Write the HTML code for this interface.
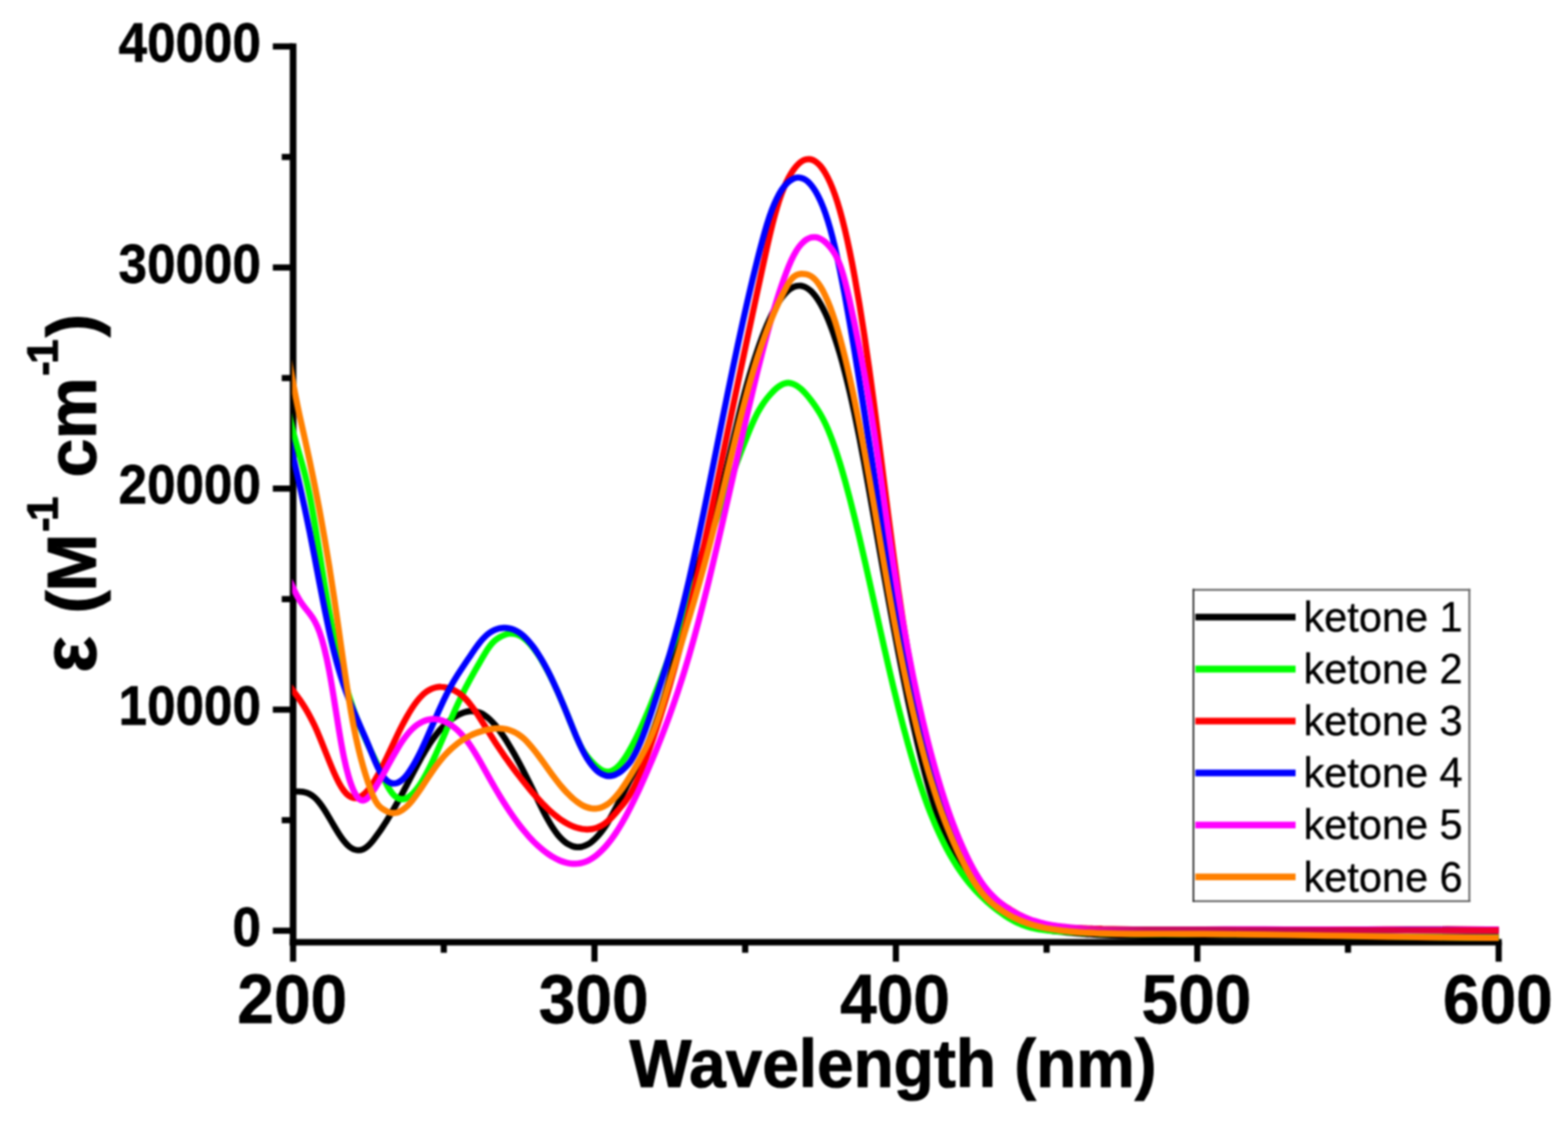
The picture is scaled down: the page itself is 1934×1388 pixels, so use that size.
<!DOCTYPE html>
<html lang="en">
<head>
<meta charset="utf-8">
<title>UV-vis absorption spectra of ketones 1-6</title>
<style>
html,body{margin:0;padding:0;background:#ffffff;}
body{width:1934px;height:1388px;overflow:hidden;}
svg{display:block;filter:blur(0.9px);}
text{font-family:"Liberation Sans","DejaVu Sans",sans-serif;fill:#000;}
.yt{font-size:68.6px;font-weight:bold;text-anchor:end;stroke:#000;stroke-width:0.8px;stroke-linejoin:round;}
.xt{font-size:84.6px;font-weight:bold;text-anchor:middle;stroke:#000;stroke-width:0.8px;stroke-linejoin:round;}
.ttl{font-weight:bold;stroke:#000;stroke-width:1.2px;stroke-linejoin:round;}
.lg{font-size:51.2px;stroke:#000;stroke-width:0.4px;}
.curves path{fill:none;stroke-width:7.7;stroke-linejoin:round;stroke-linecap:butt;}
.leg line{stroke-width:8.3;stroke-linecap:butt;}
.ax{stroke:#000;fill:none;stroke-width:8.2;}
.ax .tk{stroke-width:7.6;}
</style>
</head>
<body>
<svg width="1934" height="1388" viewBox="0 0 1934 1388">
<rect x="0" y="0" width="1934" height="1388" fill="#ffffff"/>
<defs>
<clipPath id="plotclip"><rect x="360.3" y="40" width="1488.3" height="1130"/></clipPath>
<linearGradient id="tailgrad" gradientUnits="userSpaceOnUse" x1="1290" y1="0" x2="1850" y2="0">
<stop offset="0" stop-color="#ff00ff" stop-opacity="0"/>
<stop offset="0.1" stop-color="#e8109a"/>
<stop offset="0.22" stop-color="#c41060"/>
<stop offset="0.5" stop-color="#c00858"/>
<stop offset="0.8" stop-color="#dc0040"/>
<stop offset="1" stop-color="#f4002c"/>
</linearGradient>
</defs>

<!-- axes and ticks -->
<g class="ax">
<line x1="361.5" y1="53.5" x2="361.5" y2="1166.6"/>
<line x1="357.4" y1="1162.5" x2="1852.3" y2="1162.5"/>
<line class="tk" x1="336.5" y1="1148.3" x2="361" y2="1148.3"/>
<line class="tk" x1="336.5" y1="875.55" x2="361" y2="875.55"/>
<line class="tk" x1="336.5" y1="602.8" x2="361" y2="602.8"/>
<line class="tk" x1="336.5" y1="330.05" x2="361" y2="330.05"/>
<line class="tk" x1="336.5" y1="57.3" x2="361" y2="57.3"/>
<line class="tk" x1="347.5" y1="1011.92" x2="361" y2="1011.92"/>
<line class="tk" x1="347.5" y1="739.17" x2="361" y2="739.17"/>
<line class="tk" x1="347.5" y1="466.42" x2="361" y2="466.42"/>
<line class="tk" x1="347.5" y1="193.67" x2="361" y2="193.67"/>
<line class="tk" x1="361.5" y1="1162" x2="361.5" y2="1186.5"/>
<line class="tk" x1="733.25" y1="1162" x2="733.25" y2="1186.5"/>
<line class="tk" x1="1105" y1="1162" x2="1105" y2="1186.5"/>
<line class="tk" x1="1476.75" y1="1162" x2="1476.75" y2="1186.5"/>
<line class="tk" x1="1848.5" y1="1162" x2="1848.5" y2="1186.5"/>
<line class="tk" x1="547.38" y1="1162" x2="547.38" y2="1175.5"/>
<line class="tk" x1="919.12" y1="1162" x2="919.12" y2="1175.5"/>
<line class="tk" x1="1290.88" y1="1162" x2="1290.88" y2="1175.5"/>
<line class="tk" x1="1662.62" y1="1162" x2="1662.62" y2="1175.5"/>
</g>

<!-- spectra -->
<g class="curves" clip-path="url(#plotclip)">
<path d="M352.0 975.4C354.0 975.8 356.0 976.0 358.0 976.2C360.0 976.3 362.0 976.3 364.0 976.4C366.0 976.4 368.0 976.5 370.0 976.7C372.0 976.8 374.0 977.1 376.0 977.6C378.0 978.1 380.0 978.8 382.0 979.8C384.0 980.8 386.0 982.2 388.0 983.9C390.0 985.6 392.0 987.8 394.0 990.4C396.0 992.9 398.0 995.8 400.0 998.9C402.0 1002.0 404.0 1005.4 406.0 1008.7C408.0 1012.1 410.0 1015.6 412.0 1019.0C414.0 1022.4 416.0 1025.7 418.0 1028.8C420.0 1031.9 422.0 1034.8 424.0 1037.4C426.0 1039.9 428.0 1042.1 430.0 1043.9C432.0 1045.6 434.0 1046.9 436.0 1047.8C438.0 1048.6 440.0 1049.1 442.0 1049.0C444.0 1049.0 446.0 1048.6 448.0 1047.7C450.0 1046.7 452.0 1045.4 454.0 1043.6C456.0 1041.8 458.0 1039.6 460.0 1037.1C462.0 1034.6 464.0 1031.9 466.0 1029.1C468.0 1026.3 470.0 1023.4 472.0 1020.3C474.0 1017.3 476.0 1014.2 478.0 1010.9C480.0 1007.7 482.0 1004.4 484.0 1000.9C486.0 997.5 488.0 994.0 490.0 990.4C492.0 986.8 494.0 983.1 496.0 979.4C498.0 975.6 500.0 971.8 502.0 968.0C504.0 964.1 506.0 960.3 508.0 956.5C510.0 952.7 512.0 948.9 514.0 945.1C516.0 941.4 518.0 937.8 520.0 934.2C522.0 930.7 524.0 927.2 526.0 923.9C528.0 920.6 530.0 917.5 532.0 914.6C534.0 911.6 536.0 908.9 538.0 906.3C540.0 903.8 542.0 901.4 544.0 899.2C546.0 897.1 548.0 895.0 550.0 893.2C552.0 891.4 554.0 889.7 556.0 888.1C558.0 886.6 560.0 885.2 562.0 884.0C564.0 882.7 566.0 881.6 568.0 880.7C570.0 879.8 572.0 879.0 574.0 878.5C576.0 877.9 578.0 877.6 580.0 877.4C582.0 877.3 584.0 877.4 586.0 877.7C588.0 878.0 590.0 878.6 592.0 879.4C594.0 880.2 596.0 881.3 598.0 882.7C600.0 884.0 602.0 885.7 604.0 887.5C606.0 889.4 608.0 891.5 610.0 893.8C612.0 896.1 614.0 898.7 616.0 901.3C618.0 904.0 620.0 906.9 622.0 909.9C624.0 912.9 626.0 916.1 628.0 919.4C630.0 922.7 632.0 926.1 634.0 929.6C636.0 933.1 638.0 936.8 640.0 940.5C642.0 944.2 644.0 948.0 646.0 951.9C648.0 955.8 650.0 959.8 652.0 963.8C654.0 967.8 656.0 971.9 658.0 976.0C660.0 980.1 662.0 984.2 664.0 988.3C666.0 992.4 668.0 996.5 670.0 1000.4C672.0 1004.3 674.0 1008.1 676.0 1011.6C678.0 1015.2 680.0 1018.6 682.0 1021.7C684.0 1024.7 686.0 1027.5 688.0 1030.0C690.0 1032.4 692.0 1034.6 694.0 1036.4C696.0 1038.3 698.0 1039.9 700.0 1041.1C702.0 1042.4 704.0 1043.3 706.0 1044.0C708.0 1044.7 710.0 1045.0 712.0 1045.1C714.0 1045.2 716.0 1045.0 718.0 1044.6C720.0 1044.1 722.0 1043.3 724.0 1042.3C726.0 1041.3 728.0 1040.0 730.0 1038.4C732.0 1036.9 734.0 1035.0 736.0 1032.9C738.0 1030.8 740.0 1028.5 742.0 1025.9C744.0 1023.3 746.0 1020.4 748.0 1017.3C750.0 1014.2 752.0 1010.8 754.0 1007.2C756.0 1003.7 758.0 999.9 760.0 996.1C762.0 992.3 764.0 988.3 766.0 984.3C768.0 980.3 770.0 976.3 772.0 972.3C774.0 968.3 776.0 964.3 778.0 960.5C780.0 956.6 782.0 952.8 784.0 948.9C786.0 945.1 788.0 941.2 790.0 937.1C792.0 933.1 794.0 928.9 796.0 924.5C798.0 920.1 800.0 915.4 802.0 910.4C804.0 905.4 806.0 900.1 808.0 894.4C810.0 888.8 812.0 882.8 814.0 876.6C816.0 870.4 818.0 863.9 820.0 857.1C822.0 850.3 824.0 843.2 826.0 835.9C828.0 828.6 830.0 821.0 832.0 813.3C834.0 805.5 836.0 797.6 838.0 789.6C840.0 781.6 842.0 773.5 844.0 765.4C846.0 757.3 848.0 749.2 850.0 741.3C852.0 733.3 854.0 725.5 856.0 717.8C858.0 710.2 860.0 702.7 862.0 695.6C864.0 688.4 866.0 681.6 868.0 675.0C870.0 668.4 872.0 662.0 874.0 655.6C876.0 649.3 878.0 642.9 880.0 636.4C882.0 630.0 884.0 623.4 886.0 616.4C888.0 609.5 890.0 602.3 892.0 594.6C894.0 586.9 896.0 578.7 898.0 570.2C900.0 561.8 902.0 553.1 904.0 544.4C906.0 535.8 908.0 527.1 910.0 518.7C912.0 510.2 914.0 501.9 916.0 494.1C918.0 486.3 920.0 478.9 922.0 471.9C924.0 464.9 926.0 458.1 928.0 451.7C930.0 445.2 932.0 439.0 934.0 433.1C936.0 427.2 938.0 421.5 940.0 416.2C942.0 410.9 944.0 405.8 946.0 401.1C948.0 396.4 950.0 392.0 952.0 387.9C954.0 383.8 956.0 380.1 958.0 376.7C960.0 373.3 962.0 370.2 964.0 367.5C966.0 364.8 968.0 362.5 970.0 360.5C972.0 358.5 974.0 356.9 976.0 355.6C978.0 354.4 980.0 353.5 982.0 353.0C984.0 352.5 986.0 352.4 988.0 352.6C990.0 352.9 992.0 353.5 994.0 354.6C996.0 355.6 998.0 357.1 1000.0 358.9C1002.0 360.7 1004.0 363.0 1006.0 365.6C1008.0 368.3 1010.0 371.3 1012.0 374.8C1014.0 378.3 1016.0 382.2 1018.0 386.5C1020.0 390.8 1022.0 395.5 1024.0 400.7C1026.0 405.9 1028.0 411.4 1030.0 417.5C1032.0 423.5 1034.0 429.9 1036.0 436.8C1038.0 443.7 1040.0 451.0 1042.0 458.7C1044.0 466.4 1046.0 474.6 1048.0 483.1C1050.0 491.7 1052.0 500.7 1054.0 510.1C1056.0 519.6 1058.0 529.4 1060.0 539.7C1062.0 549.9 1064.0 560.6 1066.0 571.4C1068.0 582.3 1070.0 593.5 1072.0 604.8C1074.0 616.0 1076.0 627.5 1078.0 638.9C1080.0 650.3 1082.0 661.8 1084.0 673.1C1086.0 684.5 1088.0 695.8 1090.0 707.0C1092.0 718.2 1094.0 729.3 1096.0 740.3C1098.0 751.3 1100.0 762.1 1102.0 772.8C1104.0 783.6 1106.0 794.1 1108.0 804.5C1110.0 814.9 1112.0 825.1 1114.0 835.1C1116.0 845.1 1118.0 854.8 1120.0 864.4C1122.0 873.9 1124.0 883.2 1126.0 892.2C1128.0 901.3 1130.0 910.0 1132.0 918.5C1134.0 927.0 1136.0 935.2 1138.0 943.0C1140.0 950.9 1142.0 958.4 1144.0 965.6C1146.0 972.8 1148.0 979.6 1150.0 986.1C1152.0 992.6 1154.0 998.7 1156.0 1004.5C1158.0 1010.4 1160.0 1015.9 1162.0 1021.1C1164.0 1026.3 1166.0 1031.2 1168.0 1035.8C1170.0 1040.5 1172.0 1044.9 1174.0 1049.0C1176.0 1053.2 1178.0 1057.1 1180.0 1060.8C1182.0 1064.5 1184.0 1067.9 1186.0 1071.2C1188.0 1074.5 1190.0 1077.7 1192.0 1080.6C1194.0 1083.5 1196.0 1086.3 1198.0 1088.9C1200.0 1091.6 1202.0 1094.0 1204.0 1096.4C1206.0 1098.7 1208.0 1100.9 1210.0 1103.0C1212.0 1105.1 1214.0 1107.0 1216.0 1108.9C1218.0 1110.7 1220.0 1112.5 1222.0 1114.2C1224.0 1115.9 1226.0 1117.5 1228.0 1119.0C1230.0 1120.5 1232.0 1122.0 1234.0 1123.4C1236.0 1124.8 1238.0 1126.2 1240.0 1127.5C1242.0 1128.8 1244.0 1130.0 1246.0 1131.2C1248.0 1132.4 1250.0 1133.5 1252.0 1134.6C1254.0 1135.6 1256.0 1136.6 1258.0 1137.5C1260.0 1138.4 1262.0 1139.3 1264.0 1140.1C1266.0 1140.8 1268.0 1141.6 1270.0 1142.2C1272.0 1142.9 1274.0 1143.5 1276.0 1144.0C1278.0 1144.5 1280.0 1145.0 1282.0 1145.5C1284.0 1145.9 1286.0 1146.4 1288.0 1146.7C1290.0 1147.1 1292.0 1147.4 1294.0 1147.7C1296.0 1148.1 1298.0 1148.3 1300.0 1148.6C1302.0 1148.9 1304.0 1149.1 1306.0 1149.3C1308.0 1149.6 1310.0 1149.8 1312.0 1150.0C1314.0 1150.2 1316.0 1150.4 1318.0 1150.6C1320.0 1150.8 1322.0 1151.0 1324.0 1151.1C1326.0 1151.3 1328.0 1151.5 1330.0 1151.7C1332.0 1151.8 1334.0 1152.0 1336.0 1152.1C1338.0 1152.3 1340.0 1152.4 1342.0 1152.6C1344.0 1152.7 1346.0 1152.8 1348.0 1152.9C1350.0 1153.1 1352.0 1153.2 1354.0 1153.3C1356.0 1153.4 1358.0 1153.5 1360.0 1153.6C1376.7 1154.5 1393.3 1154.9 1410.0 1155.1C1426.7 1155.3 1443.3 1155.3 1460.0 1155.3C1476.7 1155.2 1493.3 1155.0 1510.0 1155.0C1526.7 1154.9 1543.3 1154.9 1560.0 1154.9C1576.7 1155.0 1593.3 1155.0 1610.0 1155.1C1626.7 1155.2 1643.3 1155.3 1660.0 1155.4C1676.7 1155.6 1693.3 1155.7 1710.0 1155.8C1726.7 1155.9 1743.3 1156.0 1760.0 1156.1C1776.7 1156.1 1793.3 1156.2 1810.0 1156.2C1826.7 1156.2 1843.3 1156.1 1860.0 1156.0" stroke="#000000"/>
<path d="M352.0 486.9C354.0 498.9 356.0 509.0 358.0 518.0C360.0 526.9 362.0 534.7 364.0 542.0C366.0 549.3 368.0 556.0 370.0 563.0C372.0 569.9 374.0 577.0 376.0 584.9C378.0 592.8 380.0 601.7 382.0 611.8C384.0 621.9 386.0 633.1 388.0 645.0C390.0 656.8 392.0 669.2 394.0 681.8C396.0 694.3 398.0 707.0 400.0 719.3C402.0 731.6 404.0 743.4 406.0 754.5C408.0 765.5 410.0 775.8 412.0 785.5C414.0 795.2 416.0 804.2 418.0 812.7C420.0 821.1 422.0 829.0 424.0 836.4C426.0 843.7 428.0 850.6 430.0 857.1C432.0 863.5 434.0 869.6 436.0 875.3C438.0 880.9 440.0 886.3 442.0 891.4C444.0 896.4 446.0 901.2 448.0 905.8C450.0 910.4 452.0 914.8 454.0 919.1C456.0 923.4 458.0 927.6 460.0 931.7C462.0 935.9 464.0 940.1 466.0 944.4C468.0 948.7 470.0 953.3 472.0 957.7C474.0 962.1 476.0 966.2 478.0 969.9C480.0 973.5 482.0 976.7 484.0 979.1C486.0 981.5 488.0 983.3 490.0 984.4C492.0 985.6 494.0 986.1 496.0 986.1C498.0 986.0 500.0 985.5 502.0 984.5C504.0 983.5 506.0 982.0 508.0 980.1C510.0 978.3 512.0 976.0 514.0 973.4C516.0 970.8 518.0 967.9 520.0 964.7C522.0 961.5 524.0 958.0 526.0 954.2C528.0 950.5 530.0 946.6 532.0 942.4C534.0 938.3 536.0 934.0 538.0 929.6C540.0 925.2 542.0 920.6 544.0 916.0C546.0 911.4 548.0 906.8 550.0 902.1C552.0 897.4 554.0 892.7 556.0 888.1C558.0 883.5 560.0 878.9 562.0 874.4C564.0 869.9 566.0 865.5 568.0 861.3C570.0 857.1 572.0 853.0 574.0 849.1C576.0 845.2 578.0 841.5 580.0 837.8C582.0 834.2 584.0 830.6 586.0 827.1C588.0 823.6 590.0 820.1 592.0 816.7C594.0 813.2 596.0 809.8 598.0 806.5C600.0 803.1 602.0 800.0 604.0 797.4C606.0 794.7 608.0 792.5 610.0 790.7C612.0 788.9 614.0 787.5 616.0 786.4C618.0 785.2 620.0 784.3 622.0 783.5C624.0 782.7 626.0 782.1 628.0 781.8C630.0 781.5 632.0 781.5 634.0 781.9C636.0 782.2 638.0 782.8 640.0 783.8C642.0 784.7 644.0 786.0 646.0 787.5C648.0 789.0 650.0 790.8 652.0 792.9C654.0 794.9 656.0 797.3 658.0 799.8C660.0 802.4 662.0 805.2 664.0 808.2C666.0 811.3 668.0 814.5 670.0 818.0C672.0 821.4 674.0 825.1 676.0 828.9C678.0 832.7 680.0 836.8 682.0 840.9C684.0 845.1 686.0 849.4 688.0 853.9C690.0 858.4 692.0 863.0 694.0 867.7C696.0 872.5 698.0 877.3 700.0 882.3C702.0 887.2 704.0 892.3 706.0 897.3C708.0 902.3 710.0 907.3 712.0 911.8C714.0 916.4 716.0 920.5 718.0 923.9C720.0 927.4 722.0 930.3 724.0 932.9C726.0 935.5 728.0 937.7 730.0 939.8C732.0 942.0 734.0 944.0 736.0 945.7C738.0 947.4 740.0 948.9 742.0 950.0C744.0 951.1 746.0 951.8 748.0 952.1C750.0 952.3 752.0 952.1 754.0 951.3C756.0 950.6 758.0 949.3 760.0 947.7C762.0 946.0 764.0 944.0 766.0 941.6C768.0 939.1 770.0 936.4 772.0 933.3C774.0 930.2 776.0 926.8 778.0 923.2C780.0 919.6 782.0 915.7 784.0 911.7C786.0 907.7 788.0 903.5 790.0 899.1C792.0 894.7 794.0 890.2 796.0 885.5C798.0 880.9 800.0 876.1 802.0 871.2C804.0 866.3 806.0 861.3 808.0 856.2C810.0 851.1 812.0 845.9 814.0 840.7C816.0 835.4 818.0 830.1 820.0 824.6C822.0 819.2 824.0 813.8 826.0 808.2C828.0 802.7 830.0 797.1 832.0 791.5C834.0 785.8 836.0 780.1 838.0 774.4C840.0 768.7 842.0 762.9 844.0 757.1C846.0 751.3 848.0 745.5 850.0 739.6C852.0 733.8 854.0 727.9 856.0 722.0C858.0 716.2 860.0 710.3 862.0 704.4C864.0 698.5 866.0 692.6 868.0 686.7C870.0 680.8 872.0 675.0 874.0 669.1C876.0 663.3 878.0 657.4 880.0 651.6C882.0 645.8 884.0 640.0 886.0 634.3C888.0 628.5 890.0 622.8 892.0 617.2C894.0 611.5 896.0 605.9 898.0 600.3C900.0 594.8 902.0 589.3 904.0 583.9C906.0 578.4 908.0 573.1 910.0 567.8C912.0 562.5 914.0 557.3 916.0 552.2C918.0 547.0 920.0 542.0 922.0 537.0C924.0 532.1 926.0 527.3 928.0 522.8C930.0 518.2 932.0 514.0 934.0 510.1C936.0 506.3 938.0 502.9 940.0 499.8C942.0 496.8 944.0 494.1 946.0 491.5C948.0 489.0 950.0 486.7 952.0 484.6C954.0 482.4 956.0 480.5 958.0 478.8C960.0 477.1 962.0 475.7 964.0 474.7C966.0 473.6 968.0 472.9 970.0 472.6C972.0 472.3 974.0 472.4 976.0 472.9C978.0 473.4 980.0 474.3 982.0 475.5C984.0 476.7 986.0 478.2 988.0 479.9C990.0 481.7 992.0 483.8 994.0 486.0C996.0 488.3 998.0 490.7 1000.0 493.3C1002.0 495.9 1004.0 498.6 1006.0 501.6C1008.0 504.6 1010.0 507.7 1012.0 511.2C1014.0 514.7 1016.0 518.5 1018.0 522.7C1020.0 526.9 1022.0 531.5 1024.0 536.6C1026.0 541.6 1028.0 547.1 1030.0 552.9C1032.0 558.8 1034.0 565.0 1036.0 571.5C1038.0 578.1 1040.0 585.0 1042.0 592.1C1044.0 599.3 1046.0 606.7 1048.0 614.4C1050.0 622.1 1052.0 630.1 1054.0 638.2C1056.0 646.3 1058.0 654.7 1060.0 663.2C1062.0 671.7 1064.0 680.3 1066.0 689.1C1068.0 697.9 1070.0 706.7 1072.0 715.6C1074.0 724.6 1076.0 733.6 1078.0 742.6C1080.0 751.6 1082.0 760.6 1084.0 769.6C1086.0 778.5 1088.0 787.5 1090.0 796.3C1092.0 805.2 1094.0 814.0 1096.0 822.6C1098.0 831.2 1100.0 839.7 1102.0 848.1C1104.0 856.4 1106.0 864.6 1108.0 872.5C1110.0 880.5 1112.0 888.3 1114.0 895.9C1116.0 903.5 1118.0 910.9 1120.0 918.1C1122.0 925.3 1124.0 932.3 1126.0 939.0C1128.0 945.8 1130.0 952.3 1132.0 958.6C1134.0 964.9 1136.0 971.0 1138.0 976.8C1140.0 982.6 1142.0 988.2 1144.0 993.6C1146.0 998.9 1148.0 1004.0 1150.0 1008.9C1152.0 1013.8 1154.0 1018.5 1156.0 1023.0C1158.0 1027.5 1160.0 1031.7 1162.0 1035.8C1164.0 1039.9 1166.0 1043.8 1168.0 1047.6C1170.0 1051.3 1172.0 1054.9 1174.0 1058.3C1176.0 1061.7 1178.0 1064.9 1180.0 1068.1C1182.0 1071.2 1184.0 1074.1 1186.0 1077.0C1188.0 1079.8 1190.0 1082.5 1192.0 1085.1C1194.0 1087.7 1196.0 1090.2 1198.0 1092.5C1200.0 1094.9 1202.0 1097.1 1204.0 1099.3C1206.0 1101.4 1208.0 1103.5 1210.0 1105.5C1212.0 1107.4 1214.0 1109.3 1216.0 1111.1C1218.0 1113.0 1220.0 1114.7 1222.0 1116.4C1224.0 1118.0 1226.0 1119.6 1228.0 1121.2C1230.0 1122.8 1232.0 1124.3 1234.0 1125.7C1236.0 1127.2 1238.0 1128.6 1240.0 1129.9C1242.0 1131.2 1244.0 1132.5 1246.0 1133.7C1248.0 1134.9 1250.0 1136.0 1252.0 1137.0C1254.0 1138.0 1256.0 1139.0 1258.0 1139.8C1260.0 1140.7 1262.0 1141.5 1264.0 1142.1C1266.0 1142.8 1268.0 1143.5 1270.0 1144.0C1272.0 1144.6 1274.0 1145.0 1276.0 1145.5C1278.0 1145.9 1280.0 1146.3 1282.0 1146.6C1284.0 1146.9 1286.0 1147.2 1288.0 1147.5C1290.0 1147.7 1292.0 1148.0 1294.0 1148.1C1296.0 1148.3 1298.0 1148.5 1300.0 1148.7C1302.0 1148.8 1304.0 1149.0 1306.0 1149.1C1308.0 1149.2 1310.0 1149.4 1312.0 1149.5C1314.0 1149.6 1316.0 1149.7 1318.0 1149.9C1320.0 1150.0 1322.0 1150.1 1324.0 1150.2C1326.0 1150.3 1328.0 1150.4 1330.0 1150.5C1332.0 1150.6 1334.0 1150.7 1336.0 1150.8C1338.0 1150.9 1340.0 1150.9 1342.0 1151.0C1344.0 1151.1 1346.0 1151.2 1348.0 1151.2C1350.0 1151.3 1352.0 1151.4 1354.0 1151.4C1356.0 1151.5 1358.0 1151.6 1360.0 1151.6C1376.7 1152.1 1393.3 1152.3 1410.0 1152.4C1426.7 1152.4 1443.3 1152.4 1460.0 1152.3C1476.7 1152.3 1493.3 1152.2 1510.0 1152.3C1526.7 1152.3 1543.3 1152.4 1560.0 1152.6C1576.7 1152.8 1593.3 1153.1 1610.0 1153.3C1626.7 1153.6 1643.3 1153.9 1660.0 1154.3C1676.7 1154.6 1693.3 1154.9 1710.0 1155.2C1726.7 1155.6 1743.3 1155.9 1760.0 1156.1C1776.7 1156.4 1793.3 1156.6 1810.0 1156.8C1826.7 1156.9 1843.3 1157.0 1860.0 1157.0" stroke="#00ff00"/>
<path d="M352.0 840.1C354.0 842.6 356.0 845.1 358.0 847.7C360.0 850.2 362.0 852.8 364.0 855.5C366.0 858.1 368.0 860.9 370.0 863.8C372.0 866.7 374.0 869.7 376.0 872.9C378.0 876.2 380.0 879.6 382.0 883.3C384.0 887.0 386.0 891.0 388.0 895.2C390.0 899.5 392.0 904.1 394.0 909.0C396.0 913.8 398.0 918.8 400.0 923.9C402.0 928.9 404.0 934.0 406.0 938.9C408.0 943.9 410.0 948.7 412.0 953.2C414.0 957.7 416.0 961.9 418.0 965.7C420.0 969.4 422.0 972.7 424.0 975.4C426.0 978.1 428.0 980.1 430.0 981.6C432.0 983.1 434.0 984.0 436.0 984.4C438.0 984.8 440.0 984.7 442.0 984.0C444.0 983.4 446.0 982.3 448.0 980.7C450.0 979.2 452.0 977.2 454.0 974.8C456.0 972.4 458.0 969.6 460.0 966.5C462.0 963.4 464.0 960.0 466.0 956.4C468.0 952.8 470.0 948.9 472.0 944.9C474.0 940.9 476.0 936.8 478.0 932.5C480.0 928.3 482.0 924.1 484.0 919.8C486.0 915.5 488.0 911.3 490.0 907.1C492.0 903.0 494.0 899.0 496.0 895.1C498.0 891.2 500.0 887.5 502.0 884.0C504.0 880.4 506.0 877.1 508.0 874.0C510.0 870.9 512.0 868.1 514.0 865.5C516.0 862.9 518.0 860.6 520.0 858.6C522.0 856.5 524.0 854.8 526.0 853.4C528.0 851.9 530.0 850.8 532.0 849.9C534.0 849.0 536.0 848.4 538.0 848.0C540.0 847.6 542.0 847.4 544.0 847.5C546.0 847.5 548.0 847.8 550.0 848.2C552.0 848.6 554.0 849.2 556.0 850.0C558.0 850.7 560.0 851.6 562.0 852.7C564.0 853.7 566.0 855.0 568.0 856.6C570.0 858.1 572.0 859.9 574.0 862.0C576.0 864.1 578.0 866.4 580.0 869.0C582.0 871.5 584.0 874.3 586.0 877.1C588.0 880.0 590.0 883.0 592.0 886.1C594.0 889.2 596.0 892.4 598.0 895.6C600.0 898.8 602.0 902.1 604.0 905.2C606.0 908.4 608.0 911.6 610.0 914.6C612.0 917.7 614.0 920.7 616.0 923.7C618.0 926.7 620.0 929.6 622.0 932.5C624.0 935.3 626.0 938.2 628.0 940.9C630.0 943.7 632.0 946.4 634.0 949.1C636.0 951.8 638.0 954.4 640.0 957.0C642.0 959.6 644.0 962.1 646.0 964.7C648.0 967.2 650.0 969.6 652.0 972.1C654.0 974.5 656.0 976.8 658.0 979.2C660.0 981.5 662.0 983.7 664.0 985.9C666.0 988.1 668.0 990.2 670.0 992.3C672.0 994.3 674.0 996.3 676.0 998.2C678.0 1000.1 680.0 1001.9 682.0 1003.6C684.0 1005.3 686.0 1006.9 688.0 1008.4C690.0 1010.0 692.0 1011.4 694.0 1012.7C696.0 1014.0 698.0 1015.2 700.0 1016.3C702.0 1017.4 704.0 1018.4 706.0 1019.2C708.0 1020.1 710.0 1020.8 712.0 1021.4C714.0 1022.0 716.0 1022.4 718.0 1022.8C720.0 1023.1 722.0 1023.2 724.0 1023.3C726.0 1023.3 728.0 1023.2 730.0 1022.9C732.0 1022.6 734.0 1022.1 736.0 1021.4C738.0 1020.7 740.0 1019.8 742.0 1018.6C744.0 1017.5 746.0 1016.2 748.0 1014.5C750.0 1012.9 752.0 1011.0 754.0 1009.0C756.0 1006.9 758.0 1004.7 760.0 1002.4C762.0 1000.1 764.0 997.8 766.0 995.4C768.0 993.0 770.0 990.5 772.0 987.7C774.0 984.9 776.0 981.8 778.0 978.4C780.0 974.9 782.0 971.0 784.0 966.8C786.0 962.5 788.0 957.8 790.0 952.9C792.0 948.0 794.0 942.8 796.0 937.5C798.0 932.1 800.0 926.7 802.0 921.0C804.0 915.4 806.0 909.6 808.0 903.6C810.0 897.7 812.0 891.5 814.0 885.3C816.0 879.0 818.0 872.5 820.0 865.9C822.0 859.3 824.0 852.6 826.0 845.6C828.0 838.7 830.0 831.5 832.0 824.3C834.0 817.0 836.0 809.5 838.0 801.9C840.0 794.2 842.0 786.4 844.0 778.4C846.0 770.4 848.0 762.2 850.0 753.9C852.0 745.5 854.0 736.9 856.0 728.2C858.0 719.5 860.0 710.6 862.0 701.6C864.0 692.6 866.0 683.4 868.0 674.2C870.0 664.9 872.0 655.6 874.0 646.1C876.0 636.7 878.0 627.1 880.0 617.6C882.0 608.0 884.0 598.3 886.0 588.7C888.0 579.0 890.0 569.3 892.0 559.6C894.0 549.9 896.0 540.3 898.0 530.6C900.0 520.9 902.0 511.3 904.0 501.7C906.0 492.1 908.0 482.6 910.0 473.1C912.0 463.5 914.0 454.1 916.0 444.6C918.0 435.1 920.0 425.7 922.0 416.3C924.0 406.9 926.0 397.6 928.0 388.2C930.0 378.9 932.0 369.6 934.0 360.3C936.0 351.0 938.0 341.8 940.0 332.5C942.0 323.3 944.0 314.1 946.0 305.2C948.0 296.3 950.0 287.7 952.0 279.6C954.0 271.6 956.0 264.0 958.0 257.3C960.0 250.5 962.0 244.4 964.0 239.0C966.0 233.6 968.0 228.8 970.0 224.6C972.0 220.3 974.0 216.7 976.0 213.5C978.0 210.3 980.0 207.6 982.0 205.3C984.0 203.0 986.0 201.1 988.0 199.7C990.0 198.3 992.0 197.3 994.0 196.8C996.0 196.3 998.0 196.2 1000.0 196.6C1002.0 197.0 1004.0 197.9 1006.0 199.3C1008.0 200.7 1010.0 202.6 1012.0 204.9C1014.0 207.3 1016.0 210.2 1018.0 213.6C1020.0 217.0 1022.0 221.0 1024.0 225.5C1026.0 230.0 1028.0 235.1 1030.0 240.8C1032.0 246.5 1034.0 252.9 1036.0 259.9C1038.0 266.9 1040.0 274.6 1042.0 282.9C1044.0 291.3 1046.0 300.3 1048.0 309.9C1050.0 319.5 1052.0 329.8 1054.0 340.7C1056.0 351.6 1058.0 363.1 1060.0 375.1C1062.0 387.2 1064.0 399.9 1066.0 413.0C1068.0 426.2 1070.0 440.0 1072.0 454.3C1074.0 468.5 1076.0 483.3 1078.0 498.5C1080.0 513.6 1082.0 529.1 1084.0 544.7C1086.0 560.3 1088.0 576.1 1090.0 591.9C1092.0 607.7 1094.0 623.4 1096.0 639.0C1098.0 654.5 1100.0 669.9 1102.0 684.8C1104.0 699.8 1106.0 714.3 1108.0 728.3C1110.0 742.3 1112.0 755.7 1114.0 768.4C1116.0 781.1 1118.0 793.2 1120.0 804.7C1122.0 816.2 1124.0 827.1 1126.0 837.5C1128.0 847.9 1130.0 857.8 1132.0 867.3C1134.0 876.7 1136.0 885.6 1138.0 894.2C1140.0 902.8 1142.0 910.9 1144.0 918.7C1146.0 926.5 1148.0 934.0 1150.0 941.2C1152.0 948.3 1154.0 955.2 1156.0 961.8C1158.0 968.4 1160.0 974.7 1162.0 980.7C1164.0 986.8 1166.0 992.6 1168.0 998.2C1170.0 1003.8 1172.0 1009.1 1174.0 1014.3C1176.0 1019.5 1178.0 1024.4 1180.0 1029.2C1182.0 1034.0 1184.0 1038.7 1186.0 1043.2C1188.0 1047.6 1190.0 1052.0 1192.0 1056.2C1194.0 1060.4 1196.0 1064.6 1198.0 1068.5C1200.0 1072.5 1202.0 1076.4 1204.0 1080.0C1206.0 1083.5 1208.0 1086.9 1210.0 1089.9C1212.0 1093.0 1214.0 1095.7 1216.0 1098.1C1218.0 1100.5 1220.0 1102.7 1222.0 1104.6C1224.0 1106.5 1226.0 1108.3 1228.0 1109.9C1230.0 1111.5 1232.0 1112.9 1234.0 1114.3C1236.0 1115.7 1238.0 1117.0 1240.0 1118.4C1242.0 1119.7 1244.0 1120.9 1246.0 1122.2C1248.0 1123.4 1250.0 1124.6 1252.0 1125.8C1254.0 1127.0 1256.0 1128.1 1258.0 1129.1C1260.0 1130.2 1262.0 1131.1 1264.0 1132.1C1266.0 1133.0 1268.0 1133.8 1270.0 1134.6C1272.0 1135.4 1274.0 1136.1 1276.0 1136.8C1278.0 1137.5 1280.0 1138.1 1282.0 1138.7C1284.0 1139.2 1286.0 1139.8 1288.0 1140.2C1290.0 1140.7 1292.0 1141.1 1294.0 1141.5C1296.0 1141.9 1298.0 1142.2 1300.0 1142.5C1302.0 1142.8 1304.0 1143.1 1306.0 1143.3C1308.0 1143.6 1310.0 1143.8 1312.0 1144.0C1314.0 1144.2 1316.0 1144.3 1318.0 1144.5C1320.0 1144.6 1322.0 1144.7 1324.0 1144.8C1326.0 1144.9 1328.0 1145.0 1330.0 1145.1C1332.0 1145.2 1334.0 1145.2 1336.0 1145.3C1338.0 1145.4 1340.0 1145.4 1342.0 1145.5C1344.0 1145.5 1346.0 1145.6 1348.0 1145.7C1350.0 1145.7 1352.0 1145.8 1354.0 1145.8C1356.0 1145.9 1358.0 1145.9 1360.0 1146.0C1376.7 1146.4 1393.3 1146.7 1410.0 1147.0C1426.7 1147.2 1443.3 1147.4 1460.0 1147.5C1476.7 1147.6 1493.3 1147.6 1510.0 1147.6C1526.7 1147.6 1543.3 1147.5 1560.0 1147.5C1576.7 1147.4 1593.3 1147.3 1610.0 1147.2C1626.7 1147.1 1643.3 1147.0 1660.0 1146.9C1676.7 1146.8 1693.3 1146.7 1710.0 1146.6C1726.7 1146.5 1743.3 1146.5 1760.0 1146.5C1776.7 1146.4 1793.3 1146.5 1810.0 1146.6C1826.7 1146.7 1843.3 1146.8 1860.0 1147.1" stroke="#ff0000"/>
<path d="M352.0 521.2C354.0 530.3 356.0 539.2 358.0 548.0C360.0 556.8 362.0 565.5 364.0 574.2C366.0 582.9 368.0 591.6 370.0 600.4C372.0 609.3 374.0 618.3 376.0 627.6C378.0 636.9 380.0 646.5 382.0 656.5C384.0 666.5 386.0 676.9 388.0 687.3C390.0 697.7 392.0 708.3 394.0 718.7C396.0 729.2 398.0 739.5 400.0 749.6C402.0 759.6 404.0 769.3 406.0 778.5C408.0 787.7 410.0 796.4 412.0 804.3C414.0 812.3 416.0 819.6 418.0 826.4C420.0 833.2 422.0 839.5 424.0 845.4C426.0 851.2 428.0 856.7 430.0 861.9C432.0 867.1 434.0 872.0 436.0 876.7C438.0 881.5 440.0 886.1 442.0 890.6C444.0 895.2 446.0 899.7 448.0 904.3C450.0 908.8 452.0 913.5 454.0 918.3C456.0 923.1 458.0 928.2 460.0 933.1C462.0 938.0 464.0 942.7 466.0 946.8C468.0 951.0 470.0 954.5 472.0 957.3C474.0 960.1 476.0 962.3 478.0 963.8C480.0 965.4 482.0 966.2 484.0 966.6C486.0 966.9 488.0 966.6 490.0 965.9C492.0 965.1 494.0 963.9 496.0 962.2C498.0 960.5 500.0 958.3 502.0 955.8C504.0 953.3 506.0 950.4 508.0 947.1C510.0 943.9 512.0 940.4 514.0 936.6C516.0 932.8 518.0 928.8 520.0 924.6C522.0 920.3 524.0 916.0 526.0 911.5C528.0 907.0 530.0 902.5 532.0 897.9C534.0 893.3 536.0 888.7 538.0 884.2C540.0 879.6 542.0 875.1 544.0 870.8C546.0 866.4 548.0 862.2 550.0 858.2C552.0 854.2 554.0 850.5 556.0 846.9C558.0 843.3 560.0 839.9 562.0 836.6C564.0 833.4 566.0 830.2 568.0 827.2C570.0 824.1 572.0 821.1 574.0 818.1C576.0 815.2 578.0 812.2 580.0 809.3C582.0 806.3 584.0 803.3 586.0 800.4C588.0 797.6 590.0 794.8 592.0 792.3C594.0 789.8 596.0 787.6 598.0 785.7C600.0 783.8 602.0 782.1 604.0 780.7C606.0 779.3 608.0 778.2 610.0 777.3C612.0 776.4 614.0 775.7 616.0 775.3C618.0 774.9 620.0 774.6 622.0 774.6C624.0 774.6 626.0 774.8 628.0 775.2C630.0 775.6 632.0 776.2 634.0 777.0C636.0 777.9 638.0 778.9 640.0 780.2C642.0 781.6 644.0 783.1 646.0 784.9C648.0 786.7 650.0 788.7 652.0 791.0C654.0 793.3 656.0 795.7 658.0 798.4C660.0 801.1 662.0 804.0 664.0 807.2C666.0 810.3 668.0 813.6 670.0 817.1C672.0 820.7 674.0 824.4 676.0 828.3C678.0 832.2 680.0 836.3 682.0 840.6C684.0 844.8 686.0 849.3 688.0 853.8C690.0 858.4 692.0 863.0 694.0 867.8C696.0 872.5 698.0 877.4 700.0 882.3C702.0 887.2 704.0 892.2 706.0 897.1C708.0 902.0 710.0 906.9 712.0 911.6C714.0 916.2 716.0 920.6 718.0 924.6C720.0 928.6 722.0 932.2 724.0 935.5C726.0 938.7 728.0 941.6 730.0 944.1C732.0 946.6 734.0 948.8 736.0 950.6C738.0 952.4 740.0 953.8 742.0 954.9C744.0 956.0 746.0 956.7 748.0 957.1C750.0 957.4 752.0 957.5 754.0 957.1C756.0 956.8 758.0 956.2 760.0 955.2C762.0 954.3 764.0 953.1 766.0 951.6C768.0 950.1 770.0 948.3 772.0 946.2C774.0 944.1 776.0 941.7 778.0 938.9C780.0 936.0 782.0 932.5 784.0 928.6C786.0 924.7 788.0 920.3 790.0 915.5C792.0 910.7 794.0 905.5 796.0 900.1C798.0 894.6 800.0 888.9 802.0 883.0C804.0 877.1 806.0 871.0 808.0 864.8C810.0 858.6 812.0 852.4 814.0 846.1C816.0 839.8 818.0 833.5 820.0 827.0C822.0 820.6 824.0 814.0 826.0 807.2C828.0 800.5 830.0 793.5 832.0 786.4C834.0 779.3 836.0 771.9 838.0 764.3C840.0 756.6 842.0 748.7 844.0 740.5C846.0 732.3 848.0 723.9 850.0 715.2C852.0 706.5 854.0 697.5 856.0 688.4C858.0 679.3 860.0 669.9 862.0 660.5C864.0 651.0 866.0 641.4 868.0 631.7C870.0 621.9 872.0 612.1 874.0 602.2C876.0 592.3 878.0 582.4 880.0 572.4C882.0 562.4 884.0 552.4 886.0 542.4C888.0 532.4 890.0 522.5 892.0 512.6C894.0 502.7 896.0 492.8 898.0 483.1C900.0 473.3 902.0 463.6 904.0 454.0C906.0 444.5 908.0 435.0 910.0 425.6C912.0 416.3 914.0 407.1 916.0 398.0C918.0 388.9 920.0 380.0 922.0 371.3C924.0 362.5 926.0 354.0 928.0 345.6C930.0 337.2 932.0 329.0 934.0 321.1C936.0 313.1 938.0 305.4 940.0 298.0C942.0 290.6 944.0 283.5 946.0 276.9C948.0 270.4 950.0 264.4 952.0 259.2C954.0 253.9 956.0 249.2 958.0 245.2C960.0 241.1 962.0 237.5 964.0 234.5C966.0 231.5 968.0 229.0 970.0 226.9C972.0 224.8 974.0 223.1 976.0 221.9C978.0 220.6 980.0 219.7 982.0 219.3C984.0 218.9 986.0 218.9 988.0 219.4C990.0 219.9 992.0 220.8 994.0 222.2C996.0 223.6 998.0 225.4 1000.0 227.7C1002.0 230.1 1004.0 232.9 1006.0 236.2C1008.0 239.5 1010.0 243.4 1012.0 247.8C1014.0 252.3 1016.0 257.3 1018.0 263.0C1020.0 268.8 1022.0 275.1 1024.0 282.3C1026.0 289.4 1028.0 297.3 1030.0 305.8C1032.0 314.4 1034.0 323.6 1036.0 333.3C1038.0 343.1 1040.0 353.4 1042.0 364.1C1044.0 374.8 1046.0 386.0 1048.0 397.6C1050.0 409.1 1052.0 421.0 1054.0 433.1C1056.0 445.2 1058.0 457.6 1060.0 470.1C1062.0 482.6 1064.0 495.2 1066.0 507.9C1068.0 520.7 1070.0 533.5 1072.0 546.3C1074.0 559.1 1076.0 572.0 1078.0 584.8C1080.0 597.6 1082.0 610.4 1084.0 623.1C1086.0 635.8 1088.0 648.3 1090.0 660.8C1092.0 673.2 1094.0 685.5 1096.0 697.5C1098.0 709.6 1100.0 721.5 1102.0 733.0C1104.0 744.6 1106.0 755.9 1108.0 766.9C1110.0 777.8 1112.0 788.5 1114.0 798.9C1116.0 809.3 1118.0 819.3 1120.0 829.1C1122.0 838.9 1124.0 848.3 1126.0 857.5C1128.0 866.7 1130.0 875.6 1132.0 884.1C1134.0 892.7 1136.0 901.0 1138.0 909.0C1140.0 917.0 1142.0 924.7 1144.0 932.1C1146.0 939.4 1148.0 946.6 1150.0 953.4C1152.0 960.2 1154.0 966.8 1156.0 973.1C1158.0 979.4 1160.0 985.5 1162.0 991.3C1164.0 997.1 1166.0 1002.7 1168.0 1008.1C1170.0 1013.5 1172.0 1018.7 1174.0 1023.7C1176.0 1028.6 1178.0 1033.4 1180.0 1038.1C1182.0 1042.7 1184.0 1047.1 1186.0 1051.4C1188.0 1055.7 1190.0 1059.9 1192.0 1063.9C1194.0 1067.9 1196.0 1071.8 1198.0 1075.5C1200.0 1079.2 1202.0 1082.8 1204.0 1086.0C1206.0 1089.3 1208.0 1092.3 1210.0 1095.0C1212.0 1097.8 1214.0 1100.2 1216.0 1102.3C1218.0 1104.5 1220.0 1106.5 1222.0 1108.3C1224.0 1110.0 1226.0 1111.6 1228.0 1113.1C1230.0 1114.6 1232.0 1116.0 1234.0 1117.3C1236.0 1118.6 1238.0 1119.9 1240.0 1121.2C1242.0 1122.5 1244.0 1123.7 1246.0 1124.9C1248.0 1126.1 1250.0 1127.3 1252.0 1128.4C1254.0 1129.6 1256.0 1130.6 1258.0 1131.6C1260.0 1132.7 1262.0 1133.6 1264.0 1134.5C1266.0 1135.4 1268.0 1136.2 1270.0 1137.0C1272.0 1137.7 1274.0 1138.4 1276.0 1139.0C1278.0 1139.7 1280.0 1140.3 1282.0 1140.8C1284.0 1141.3 1286.0 1141.8 1288.0 1142.3C1290.0 1142.7 1292.0 1143.1 1294.0 1143.5C1296.0 1143.8 1298.0 1144.1 1300.0 1144.4C1302.0 1144.7 1304.0 1144.9 1306.0 1145.1C1308.0 1145.3 1310.0 1145.5 1312.0 1145.7C1314.0 1145.8 1316.0 1146.0 1318.0 1146.1C1320.0 1146.2 1322.0 1146.3 1324.0 1146.4C1326.0 1146.4 1328.0 1146.5 1330.0 1146.6C1332.0 1146.6 1334.0 1146.7 1336.0 1146.7C1338.0 1146.7 1340.0 1146.8 1342.0 1146.8C1344.0 1146.8 1346.0 1146.9 1348.0 1146.9C1350.0 1147.0 1352.0 1147.0 1354.0 1147.0C1356.0 1147.0 1358.0 1147.1 1360.0 1147.1C1376.7 1147.4 1393.3 1147.6 1410.0 1147.7C1426.7 1147.8 1443.3 1147.9 1460.0 1148.0C1476.7 1148.0 1493.3 1148.0 1510.0 1148.0C1526.7 1148.0 1543.3 1148.0 1560.0 1147.9C1576.7 1147.9 1593.3 1147.8 1610.0 1147.7C1626.7 1147.6 1643.3 1147.6 1660.0 1147.5C1676.7 1147.4 1693.3 1147.3 1710.0 1147.3C1726.7 1147.2 1743.3 1147.2 1760.0 1147.2C1776.7 1147.2 1793.3 1147.2 1810.0 1147.3C1826.7 1147.4 1843.3 1147.5 1860.0 1147.7" stroke="#0000ff"/>
<path d="M352.0 710.9C354.0 711.1 356.0 714.1 358.0 717.9C360.0 721.8 362.0 726.5 364.0 730.5C366.0 734.5 368.0 738.0 370.0 741.2C372.0 744.3 374.0 747.1 376.0 749.6C378.0 752.2 380.0 754.5 382.0 757.1C384.0 759.7 386.0 762.5 388.0 766.1C390.0 769.7 392.0 774.0 394.0 779.5C396.0 785.0 398.0 791.7 400.0 799.7C402.0 807.6 404.0 816.8 406.0 827.4C408.0 838.0 410.0 850.1 412.0 862.6C414.0 875.1 416.0 888.0 418.0 900.2C420.0 912.4 422.0 923.8 424.0 933.5C426.0 943.1 428.0 951.2 430.0 958.1C432.0 964.9 434.0 970.6 436.0 975.0C438.0 979.4 440.0 982.7 442.0 984.8C444.0 986.9 446.0 987.8 448.0 987.6C450.0 987.4 452.0 986.1 454.0 984.0C456.0 982.0 458.0 979.2 460.0 976.2C462.0 973.3 464.0 970.1 466.0 966.7C468.0 963.4 470.0 959.9 472.0 956.3C474.0 952.7 476.0 949.1 478.0 945.5C480.0 941.8 482.0 938.2 484.0 934.6C486.0 931.1 488.0 927.6 490.0 924.2C492.0 920.9 494.0 917.7 496.0 914.7C498.0 911.8 500.0 909.0 502.0 906.6C504.0 904.1 506.0 901.9 508.0 899.9C510.0 897.9 512.0 896.2 514.0 894.7C516.0 893.2 518.0 892.0 520.0 891.0C522.0 889.9 524.0 889.1 526.0 888.5C528.0 887.9 530.0 887.5 532.0 887.3C534.0 887.1 536.0 887.2 538.0 887.4C540.0 887.6 542.0 888.0 544.0 888.5C546.0 889.1 548.0 889.9 550.0 890.9C552.0 891.8 554.0 893.0 556.0 894.3C558.0 895.7 560.0 897.2 562.0 898.9C564.0 900.6 566.0 902.5 568.0 904.6C570.0 906.7 572.0 909.0 574.0 911.5C576.0 914.0 578.0 916.7 580.0 919.6C582.0 922.6 584.0 925.7 586.0 929.0C588.0 932.3 590.0 935.7 592.0 939.2C594.0 942.7 596.0 946.2 598.0 949.8C600.0 953.4 602.0 957.0 604.0 960.6C606.0 964.1 608.0 967.7 610.0 971.1C612.0 974.5 614.0 977.9 616.0 981.2C618.0 984.5 620.0 987.8 622.0 990.9C624.0 994.1 626.0 997.2 628.0 1000.1C630.0 1003.1 632.0 1006.0 634.0 1008.9C636.0 1011.7 638.0 1014.4 640.0 1017.1C642.0 1019.7 644.0 1022.2 646.0 1024.7C648.0 1027.1 650.0 1029.4 652.0 1031.7C654.0 1033.9 656.0 1036.0 658.0 1038.1C660.0 1040.1 662.0 1042.0 664.0 1043.8C666.0 1045.7 668.0 1047.4 670.0 1049.0C672.0 1050.6 674.0 1052.1 676.0 1053.5C678.0 1054.9 680.0 1056.2 682.0 1057.3C684.0 1058.5 686.0 1059.6 688.0 1060.5C690.0 1061.5 692.0 1062.3 694.0 1063.0C696.0 1063.7 698.0 1064.3 700.0 1064.7C702.0 1065.2 704.0 1065.4 706.0 1065.6C708.0 1065.7 710.0 1065.7 712.0 1065.5C714.0 1065.3 716.0 1065.0 718.0 1064.5C720.0 1064.0 722.0 1063.3 724.0 1062.4C726.0 1061.5 728.0 1060.4 730.0 1059.2C732.0 1057.9 734.0 1056.5 736.0 1054.9C738.0 1053.3 740.0 1051.5 742.0 1049.5C744.0 1047.5 746.0 1045.4 748.0 1043.1C750.0 1040.7 752.0 1038.2 754.0 1035.6C756.0 1032.9 758.0 1030.0 760.0 1027.0C762.0 1024.0 764.0 1020.8 766.0 1017.4C768.0 1014.0 770.0 1010.5 772.0 1006.9C774.0 1003.2 776.0 999.4 778.0 995.4C780.0 991.5 782.0 987.4 784.0 983.2C786.0 979.1 788.0 974.8 790.0 970.4C792.0 966.0 794.0 961.5 796.0 956.9C798.0 952.4 800.0 947.7 802.0 943.0C804.0 938.3 806.0 933.6 808.0 928.7C810.0 923.8 812.0 918.9 814.0 913.8C816.0 908.8 818.0 903.7 820.0 898.4C822.0 893.1 824.0 887.8 826.0 882.2C828.0 876.7 830.0 871.1 832.0 865.3C834.0 859.5 836.0 853.6 838.0 847.4C840.0 841.3 842.0 835.1 844.0 828.6C846.0 822.1 848.0 815.5 850.0 808.7C852.0 801.8 854.0 794.8 856.0 787.5C858.0 780.3 860.0 772.9 862.0 765.2C864.0 757.6 866.0 749.8 868.0 741.9C870.0 734.0 872.0 725.9 874.0 717.7C876.0 709.5 878.0 701.1 880.0 692.7C882.0 684.3 884.0 675.7 886.0 667.1C888.0 658.5 890.0 649.8 892.0 641.1C894.0 632.4 896.0 623.6 898.0 614.8C900.0 606.0 902.0 597.2 904.0 588.3C906.0 579.5 908.0 570.7 910.0 561.8C912.0 553.0 914.0 544.2 916.0 535.5C918.0 526.8 920.0 518.1 922.0 509.5C924.0 500.9 926.0 492.4 928.0 484.0C930.0 475.6 932.0 467.4 934.0 459.2C936.0 451.1 938.0 443.1 940.0 435.3C942.0 427.5 944.0 419.9 946.0 412.5C948.0 405.1 950.0 397.9 952.0 390.9C954.0 383.9 956.0 377.2 958.0 370.8C960.0 364.3 962.0 358.1 964.0 352.2C966.0 346.4 968.0 340.8 970.0 335.6C972.0 330.4 974.0 325.6 976.0 321.2C978.0 316.9 980.0 313.1 982.0 309.8C984.0 306.4 986.0 303.7 988.0 301.5C990.0 299.2 992.0 297.4 994.0 296.0C996.0 294.6 998.0 293.7 1000.0 293.1C1002.0 292.6 1004.0 292.4 1006.0 292.7C1008.0 292.9 1010.0 293.6 1012.0 294.6C1014.0 295.6 1016.0 297.0 1018.0 298.7C1020.0 300.4 1022.0 302.5 1024.0 305.0C1026.0 307.4 1028.0 310.2 1030.0 313.7C1032.0 317.3 1034.0 321.5 1036.0 326.9C1038.0 332.2 1040.0 338.7 1042.0 346.3C1044.0 353.9 1046.0 362.4 1048.0 371.2C1050.0 380.1 1052.0 389.5 1054.0 399.1C1056.0 408.8 1058.0 418.8 1060.0 429.0C1062.0 439.1 1064.0 449.6 1066.0 460.5C1068.0 471.4 1070.0 482.7 1072.0 494.5C1074.0 506.4 1076.0 518.8 1078.0 532.0C1080.0 545.1 1082.0 558.8 1084.0 572.8C1086.0 586.8 1088.0 601.0 1090.0 615.3C1092.0 629.5 1094.0 643.6 1096.0 657.4C1098.0 671.1 1100.0 684.4 1102.0 697.3C1104.0 710.2 1106.0 722.7 1108.0 734.8C1110.0 746.9 1112.0 758.6 1114.0 769.9C1116.0 781.2 1118.0 792.2 1120.0 802.7C1122.0 813.3 1124.0 823.5 1126.0 833.4C1128.0 843.2 1130.0 852.7 1132.0 861.9C1134.0 871.1 1136.0 879.9 1138.0 888.5C1140.0 897.0 1142.0 905.2 1144.0 913.2C1146.0 921.1 1148.0 928.8 1150.0 936.1C1152.0 943.5 1154.0 950.6 1156.0 957.4C1158.0 964.2 1160.0 970.8 1162.0 977.1C1164.0 983.4 1166.0 989.5 1168.0 995.4C1170.0 1001.2 1172.0 1006.9 1174.0 1012.3C1176.0 1017.7 1178.0 1022.9 1180.0 1027.9C1182.0 1033.0 1184.0 1037.8 1186.0 1042.4C1188.0 1047.0 1190.0 1051.4 1192.0 1055.6C1194.0 1059.8 1196.0 1063.8 1198.0 1067.6C1200.0 1071.4 1202.0 1075.0 1204.0 1078.3C1206.0 1081.7 1208.0 1084.8 1210.0 1087.8C1212.0 1090.7 1214.0 1093.4 1216.0 1095.9C1218.0 1098.4 1220.0 1100.8 1222.0 1102.9C1224.0 1105.1 1226.0 1107.0 1228.0 1108.9C1230.0 1110.7 1232.0 1112.5 1234.0 1114.1C1236.0 1115.7 1238.0 1117.2 1240.0 1118.6C1242.0 1120.0 1244.0 1121.3 1246.0 1122.6C1248.0 1123.8 1250.0 1125.0 1252.0 1126.1C1254.0 1127.2 1256.0 1128.3 1258.0 1129.2C1260.0 1130.2 1262.0 1131.1 1264.0 1131.9C1266.0 1132.8 1268.0 1133.6 1270.0 1134.3C1272.0 1135.0 1274.0 1135.7 1276.0 1136.3C1278.0 1136.9 1280.0 1137.5 1282.0 1138.0C1284.0 1138.6 1286.0 1139.0 1288.0 1139.5C1290.0 1139.9 1292.0 1140.4 1294.0 1140.7C1296.0 1141.1 1298.0 1141.5 1300.0 1141.8C1302.0 1142.1 1304.0 1142.4 1306.0 1142.7C1308.0 1142.9 1310.0 1143.2 1312.0 1143.4C1314.0 1143.7 1316.0 1143.9 1318.0 1144.1C1320.0 1144.3 1322.0 1144.5 1324.0 1144.7C1326.0 1144.9 1328.0 1145.1 1330.0 1145.2C1332.0 1145.4 1334.0 1145.6 1336.0 1145.7C1338.0 1145.8 1340.0 1146.0 1342.0 1146.1C1344.0 1146.2 1346.0 1146.3 1348.0 1146.4C1350.0 1146.5 1352.0 1146.6 1354.0 1146.7C1356.0 1146.8 1358.0 1146.8 1360.0 1146.9C1376.7 1147.5 1393.3 1147.4 1410.0 1147.3C1426.7 1147.2 1443.3 1147.0 1460.0 1146.9C1476.7 1146.8 1493.3 1146.7 1510.0 1146.7C1526.7 1146.7 1543.3 1146.7 1560.0 1146.7C1576.7 1146.7 1593.3 1146.8 1610.0 1146.8C1626.7 1146.9 1643.3 1147.0 1660.0 1147.0C1676.7 1147.1 1693.3 1147.1 1710.0 1147.2C1726.7 1147.2 1743.3 1147.3 1760.0 1147.3C1776.7 1147.3 1793.3 1147.3 1810.0 1147.2C1826.7 1147.2 1843.3 1147.1 1860.0 1147.0" stroke="#ff00ff"/>
<path d="M1290 1140.5C1310 1144 1330 1146.3 1360 1146.9L1500 1147.2L1860 1148.2" stroke="url(#tailgrad)" stroke-width="9"/>
<path d="M352.0 420.4C354.0 431.5 356.0 442.6 358.0 453.6C360.0 464.6 362.0 475.4 364.0 485.7C366.0 496.1 368.0 505.8 370.0 514.8C372.0 523.9 374.0 532.6 376.0 541.5C378.0 550.4 380.0 559.6 382.0 569.0C384.0 578.4 386.0 588.1 388.0 598.1C390.0 608.1 392.0 618.4 394.0 629.1C396.0 639.8 398.0 650.9 400.0 662.4C402.0 673.9 404.0 685.8 406.0 698.2C408.0 710.6 410.0 723.5 412.0 736.9C414.0 750.3 416.0 764.3 418.0 778.4C420.0 792.5 422.0 806.8 424.0 820.6C426.0 834.5 428.0 847.9 430.0 860.5C432.0 873.1 434.0 884.6 436.0 895.0C438.0 905.4 440.0 914.7 442.0 923.1C444.0 931.6 446.0 939.2 448.0 946.1C450.0 953.1 452.0 959.4 454.0 965.4C456.0 971.4 458.0 977.1 460.0 981.8C462.0 986.5 464.0 990.1 466.0 992.6C468.0 995.1 470.0 996.7 472.0 998.1C474.0 999.4 476.0 1000.5 478.0 1001.4C480.0 1002.3 482.0 1002.9 484.0 1003.1C486.0 1003.3 488.0 1003.0 490.0 1002.5C492.0 1001.9 494.0 1000.9 496.0 999.6C498.0 998.3 500.0 996.7 502.0 994.8C504.0 992.8 506.0 990.6 508.0 988.2C510.0 985.7 512.0 983.1 514.0 980.3C516.0 977.5 518.0 974.6 520.0 971.6C522.0 968.6 524.0 965.6 526.0 962.5C528.0 959.5 530.0 956.4 532.0 953.5C534.0 950.5 536.0 947.6 538.0 944.9C540.0 942.2 542.0 939.6 544.0 937.2C546.0 934.8 548.0 932.5 550.0 930.4C552.0 928.3 554.0 926.3 556.0 924.4C558.0 922.5 560.0 920.8 562.0 919.2C564.0 917.6 566.0 916.1 568.0 914.7C570.0 913.3 572.0 912.0 574.0 910.8C576.0 909.7 578.0 908.6 580.0 907.6C582.0 906.6 584.0 905.7 586.0 904.9C588.0 904.1 590.0 903.4 592.0 902.8C594.0 902.1 596.0 901.6 598.0 901.0C600.0 900.5 602.0 900.1 604.0 899.7C606.0 899.4 608.0 899.1 610.0 898.9C612.0 898.7 614.0 898.6 616.0 898.7C618.0 898.7 620.0 898.9 622.0 899.2C624.0 899.5 626.0 900.0 628.0 900.6C630.0 901.2 632.0 902.0 634.0 903.0C636.0 903.9 638.0 905.1 640.0 906.5C642.0 907.8 644.0 909.4 646.0 911.2C648.0 913.0 650.0 915.1 652.0 917.3C654.0 919.5 656.0 921.8 658.0 924.3C660.0 926.8 662.0 929.4 664.0 932.1C666.0 934.8 668.0 937.5 670.0 940.3C672.0 943.1 674.0 945.9 676.0 948.7C678.0 951.5 680.0 954.3 682.0 957.0C684.0 959.7 686.0 962.3 688.0 964.8C690.0 967.4 692.0 969.8 694.0 972.1C696.0 974.5 698.0 976.7 700.0 978.7C702.0 980.8 704.0 982.8 706.0 984.5C708.0 986.3 710.0 988.0 712.0 989.4C714.0 990.9 716.0 992.2 718.0 993.3C720.0 994.4 722.0 995.3 724.0 996.0C726.0 996.7 728.0 997.2 730.0 997.5C732.0 997.7 734.0 997.8 736.0 997.5C738.0 997.3 740.0 996.9 742.0 996.1C744.0 995.4 746.0 994.4 748.0 993.1C750.0 991.9 752.0 990.3 754.0 988.5C756.0 986.6 758.0 984.5 760.0 982.2C762.0 979.9 764.0 977.4 766.0 974.7C768.0 972.0 770.0 969.0 772.0 966.0C774.0 962.9 776.0 959.7 778.0 956.3C780.0 953.0 782.0 949.5 784.0 946.0C786.0 942.5 788.0 938.8 790.0 935.1C792.0 931.4 794.0 927.7 796.0 923.8C798.0 919.8 800.0 915.7 802.0 911.3C804.0 906.8 806.0 902.0 808.0 896.8C810.0 891.6 812.0 885.8 814.0 879.6C816.0 873.3 818.0 866.7 820.0 860.1C822.0 853.5 824.0 847.0 826.0 840.4C828.0 833.9 830.0 827.4 832.0 820.9C834.0 814.5 836.0 808.0 838.0 801.5C840.0 795.0 842.0 788.5 844.0 781.9C846.0 775.3 848.0 768.7 850.0 762.1C852.0 755.4 854.0 748.6 856.0 741.8C858.0 735.0 860.0 728.0 862.0 721.0C864.0 713.9 866.0 706.7 868.0 699.4C870.0 692.1 872.0 684.6 874.0 677.0C876.0 669.3 878.0 661.5 880.0 653.5C882.0 645.5 884.0 637.3 886.0 629.0C888.0 620.8 890.0 612.4 892.0 603.9C894.0 595.5 896.0 587.0 898.0 578.5C900.0 570.1 902.0 561.6 904.0 553.3C906.0 544.9 908.0 536.6 910.0 528.5C912.0 520.3 914.0 512.4 916.0 504.6C918.0 496.8 920.0 489.2 922.0 481.9C924.0 474.6 926.0 467.6 928.0 460.9C930.0 454.1 932.0 447.7 934.0 441.5C936.0 435.3 938.0 429.4 940.0 423.7C942.0 418.0 944.0 412.6 946.0 407.4C948.0 402.2 950.0 397.2 952.0 392.4C954.0 387.6 956.0 383.0 958.0 378.6C960.0 374.2 962.0 369.9 964.0 365.8C966.0 361.7 968.0 357.7 970.0 354.0C972.0 350.3 974.0 347.1 976.0 344.6C978.0 342.1 980.0 340.5 982.0 339.5C984.0 338.5 986.0 338.1 988.0 337.9C990.0 337.8 992.0 337.9 994.0 338.3C996.0 338.7 998.0 339.4 1000.0 340.5C1002.0 341.7 1004.0 343.3 1006.0 345.5C1008.0 347.7 1010.0 350.4 1012.0 353.6C1014.0 356.8 1016.0 360.6 1018.0 364.8C1020.0 369.1 1022.0 373.8 1024.0 379.1C1026.0 384.4 1028.0 390.1 1030.0 396.4C1032.0 402.7 1034.0 409.5 1036.0 416.7C1038.0 424.0 1040.0 431.7 1042.0 439.9C1044.0 448.0 1046.0 456.6 1048.0 465.6C1050.0 474.5 1052.0 483.9 1054.0 493.6C1056.0 503.3 1058.0 513.4 1060.0 523.7C1062.0 534.1 1064.0 544.7 1066.0 555.6C1068.0 566.6 1070.0 577.8 1072.0 589.1C1074.0 600.5 1076.0 612.1 1078.0 623.8C1080.0 635.4 1082.0 647.2 1084.0 658.9C1086.0 670.7 1088.0 682.4 1090.0 694.1C1092.0 705.7 1094.0 717.2 1096.0 728.5C1098.0 739.8 1100.0 750.9 1102.0 761.7C1104.0 772.6 1106.0 783.1 1108.0 793.4C1110.0 803.6 1112.0 813.6 1114.0 823.3C1116.0 833.0 1118.0 842.5 1120.0 851.6C1122.0 860.8 1124.0 869.7 1126.0 878.3C1128.0 886.9 1130.0 895.2 1132.0 903.3C1134.0 911.3 1136.0 919.1 1138.0 926.6C1140.0 934.1 1142.0 941.3 1144.0 948.2C1146.0 955.2 1148.0 961.8 1150.0 968.2C1152.0 974.7 1154.0 980.8 1156.0 986.8C1158.0 992.7 1160.0 998.4 1162.0 1003.9C1164.0 1009.4 1166.0 1014.6 1168.0 1019.7C1170.0 1024.7 1172.0 1029.6 1174.0 1034.3C1176.0 1039.0 1178.0 1043.4 1180.0 1047.8C1182.0 1052.1 1184.0 1056.2 1186.0 1060.2C1188.0 1064.3 1190.0 1068.1 1192.0 1071.8C1194.0 1075.5 1196.0 1079.1 1198.0 1082.4C1200.0 1085.8 1202.0 1089.0 1204.0 1091.9C1206.0 1094.9 1208.0 1097.6 1210.0 1100.1C1212.0 1102.7 1214.0 1105.0 1216.0 1107.1C1218.0 1109.2 1220.0 1111.2 1222.0 1113.0C1224.0 1114.8 1226.0 1116.5 1228.0 1118.0C1230.0 1119.6 1232.0 1121.0 1234.0 1122.4C1236.0 1123.8 1238.0 1125.1 1240.0 1126.3C1242.0 1127.5 1244.0 1128.7 1246.0 1129.8C1248.0 1130.8 1250.0 1131.9 1252.0 1132.8C1254.0 1133.8 1256.0 1134.7 1258.0 1135.6C1260.0 1136.4 1262.0 1137.2 1264.0 1137.9C1266.0 1138.7 1268.0 1139.4 1270.0 1140.0C1272.0 1140.7 1274.0 1141.3 1276.0 1141.8C1278.0 1142.4 1280.0 1142.9 1282.0 1143.4C1284.0 1143.8 1286.0 1144.3 1288.0 1144.7C1290.0 1145.1 1292.0 1145.5 1294.0 1145.8C1296.0 1146.2 1298.0 1146.5 1300.0 1146.8C1302.0 1147.1 1304.0 1147.4 1306.0 1147.6C1308.0 1147.9 1310.0 1148.1 1312.0 1148.4C1314.0 1148.6 1316.0 1148.8 1318.0 1149.0C1320.0 1149.2 1322.0 1149.4 1324.0 1149.6C1326.0 1149.8 1328.0 1149.9 1330.0 1150.1C1332.0 1150.2 1334.0 1150.4 1336.0 1150.5C1338.0 1150.7 1340.0 1150.8 1342.0 1150.9C1344.0 1151.0 1346.0 1151.1 1348.0 1151.2C1350.0 1151.3 1352.0 1151.4 1354.0 1151.5C1356.0 1151.6 1358.0 1151.7 1360.0 1151.7C1376.7 1152.3 1393.3 1152.4 1410.0 1152.3C1426.7 1152.3 1443.3 1152.2 1460.0 1152.3C1476.7 1152.3 1493.3 1152.4 1510.0 1152.6C1526.7 1152.7 1543.3 1152.9 1560.0 1153.1C1576.7 1153.4 1593.3 1153.6 1610.0 1153.9C1626.7 1154.2 1643.3 1154.5 1660.0 1154.7C1676.7 1155.0 1693.3 1155.3 1710.0 1155.6C1726.7 1155.9 1743.3 1156.1 1760.0 1156.3C1776.7 1156.6 1793.3 1156.7 1810.0 1156.9C1826.7 1157.0 1843.3 1157.1 1860.0 1157.2" stroke="#ff8000"/>
</g>

<!-- y tick labels -->
<text class="yt" transform="translate(321.8,1166.8) scale(0.92,1)">0</text>
<text class="yt" transform="translate(321.8,894.05) scale(0.92,1)">10000</text>
<text class="yt" transform="translate(321.8,621.3) scale(0.92,1)">20000</text>
<text class="yt" transform="translate(321.8,348.55) scale(0.92,1)">30000</text>
<text class="yt" transform="translate(321.8,75.8) scale(0.92,1)">40000</text>

<!-- x tick labels -->
<text class="xt" transform="translate(360.5,1262) scale(0.96,1)">200</text>
<text class="xt" transform="translate(732.25,1262) scale(0.96,1)">300</text>
<text class="xt" transform="translate(1104,1262) scale(0.96,1)">400</text>
<text class="xt" transform="translate(1475.75,1262) scale(0.96,1)">500</text>
<text class="xt" transform="translate(1847.5,1262) scale(0.96,1)">600</text>

<!-- axis titles -->
<text class="ttl" font-size="83.6" text-anchor="middle" transform="translate(1101.5,1340.8) scale(0.97,1)">Wavelength (nm)</text>
<text class="ttl" font-size="86" transform="translate(118,830) rotate(-90)"><tspan x="0" y="0" font-size="95">ε</tspan><tspan x="53 73 100" y="0"> (M</tspan><tspan x="173.8 187.3" y="-47" font-size="54">-1</tspan><tspan x="219 241 288" y="0"> cm</tspan><tspan x="366.3 381.3" y="-47" font-size="54">-1</tspan><tspan x="414" y="0">)</tspan></text>

<!-- legend -->
<g class="leg">
<rect x="1472" y="727.8" width="340.3" height="384.1" fill="#ffffff" stroke="none"/>
<path d="M1470.9 727.8H1813.5" fill="none" stroke="#6e6e6e" stroke-width="2.4"/>
<path d="M1812.3 726.6V1113.1" fill="none" stroke="#6a6a6a" stroke-width="2.4"/>
<path d="M1470.9 1111.9H1813.5" fill="none" stroke="#626262" stroke-width="2.4"/>
<path d="M1472 726.6V1113.1" fill="none" stroke="#303030" stroke-width="2.1"/>
<line x1="1474.3" y1="761.4" x2="1598" y2="761.4" stroke="#000000"/>
<line x1="1474.3" y1="825.5" x2="1598" y2="825.5" stroke="#00ff00"/>
<line x1="1474.3" y1="889.6" x2="1598" y2="889.6" stroke="#ff0000"/>
<line x1="1474.3" y1="953.7" x2="1598" y2="953.7" stroke="#0000ff"/>
<line x1="1474.3" y1="1017.8" x2="1598" y2="1017.8" stroke="#ff00ff"/>
<line x1="1474.3" y1="1081.9" x2="1598" y2="1081.9" stroke="#ff8000"/>
<text class="lg" transform="translate(1607.7,779) scale(1,1)">ketone 1</text>
<text class="lg" transform="translate(1607.7,843.1) scale(1,1)">ketone 2</text>
<text class="lg" transform="translate(1607.7,907.2) scale(1,1)">ketone 3</text>
<text class="lg" transform="translate(1607.7,971.3) scale(1,1)">ketone 4</text>
<text class="lg" transform="translate(1607.7,1035.4) scale(1,1)">ketone 5</text>
<text class="lg" transform="translate(1607.7,1099.5) scale(1,1)">ketone 6</text>
</g>
</svg>
</body>
</html>
